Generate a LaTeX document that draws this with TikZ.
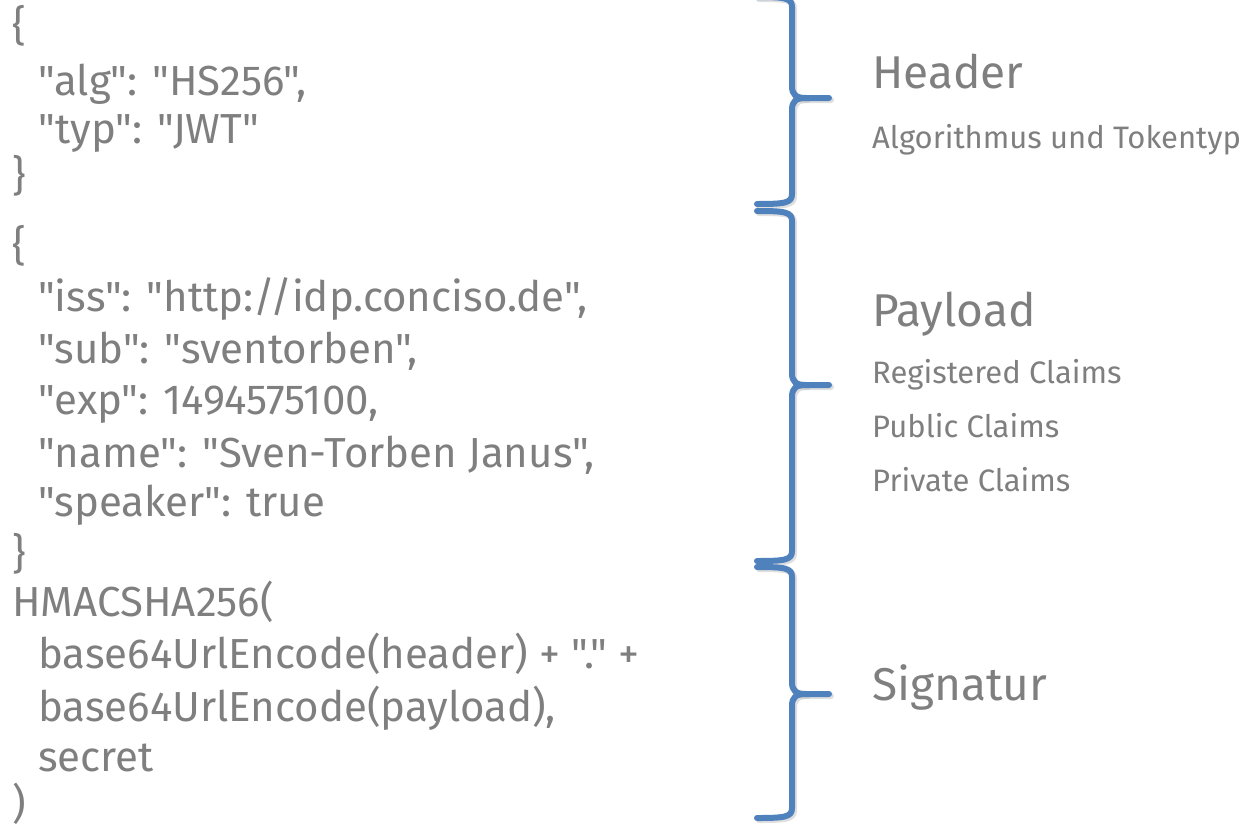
\documentclass[tikz,border=0pt]{standalone}
\usepackage{fontspec}
\setmainfont{Fira Sans}[Ligatures=TeXOff]
\definecolor{txtgray}{HTML}{7F7F7F}
\definecolor{braceblue}{HTML}{4F81BD}
\tikzset{
  code/.style={anchor=base west, inner sep=0pt, text=txtgray, font=\fontsize{42}{44}\selectfont},
  big/.style={anchor=base west, inner sep=0pt, text=txtgray, font=\fontsize{46}{48}\selectfont},
  small/.style={anchor=base west, inner sep=0pt, text=txtgray, font=\fontsize{31}{33}\selectfont},
  bracepath/.style={draw=braceblue, line width=6pt, line cap=round, line join=round},
  braceshadow/.style={draw=black!25, opacity=0.5, line width=6pt, line cap=round, line join=round}
}
\newcommand{\mybrace}[4]{% #1 top y, #2 middle y, #3 bottom y, #4 style
  \draw[#4] (757,#1) .. controls (785,#1) and (792,#1+1) .. (792,#1+10)
    -- (792,#2-12) .. controls (792,#2-3) and (796,#2) .. (806,#2) -- (829,#2);
  \draw[#4] (806,#2) .. controls (796,#2) and (792,#2+3) .. (792,#2+12)
    -- (792,#3-10) .. controls (792,#3-1) and (785,#3) .. (757,#3);
}
\begin{document}
\begin{tikzpicture}[x=1pt,y=-1pt]
\useasboundingbox (0,0) rectangle (1253,828);
% left code
\node[code] (l1) at (12,40) {\{};
\node[code] (l2) at (38,95) {"alg": "HS256",};
\node[code] (l3) at (38,143) {"typ": "JWT"};
\node[code] (l4) at (12,190) {\}};
\node[code] (l5) at (12,260) {\{};
\node[code] (l6) at (38,311) {"iss": "http://idp.conciso.de",};
\node[code] (l7) at (38,363) {"sub": "sventorben",};
\node[code] (l8) at (38,414) {"exp": 1494575100,};
\node[code] (l9) at (38,467) {"name": "Sven-Torben Janus",};
\node[code] (l10) at (38,516) {"speaker": true};
\node[code] (l11) at (12,568) {\}};
\node[code] (l12) at (12,616) {HMACSHA256(};
\node[code] (l13) at (38,668) {base64UrlEncode(header) + "." +};
\node[code] (l14) at (38,721) {base64UrlEncode(payload),};
\node[code] (l15) at (38,771) {secret};
\node[code] (l16) at (12,818) {)};
% braces
\begin{scope}[shift={(2,2)}]
\mybrace{-3}{98}{204}{braceshadow}
\mybrace{211}{385}{561}{braceshadow}
\mybrace{567}{694}{818}{braceshadow}
\end{scope}
\mybrace{-3}{98}{204}{bracepath}
\mybrace{211}{385}{561}{bracepath}
\mybrace{567}{694}{818}{bracepath}
% right labels
\node[big] (hdr) at (872,88) {Header};
\node[small] (hdrs) at (872,148) {Algorithmus und Tokentyp};
\node[big] (pl) at (872,326) {Payload};
\node[small] (pl1) at (872,383) {Registered Claims};
\node[small] (pl2) at (872,437) {Public Claims};
\node[small] (pl3) at (872,491) {Private Claims};
\node[big] (sig) at (872,700) {Signatur};
\end{tikzpicture}
\end{document}
